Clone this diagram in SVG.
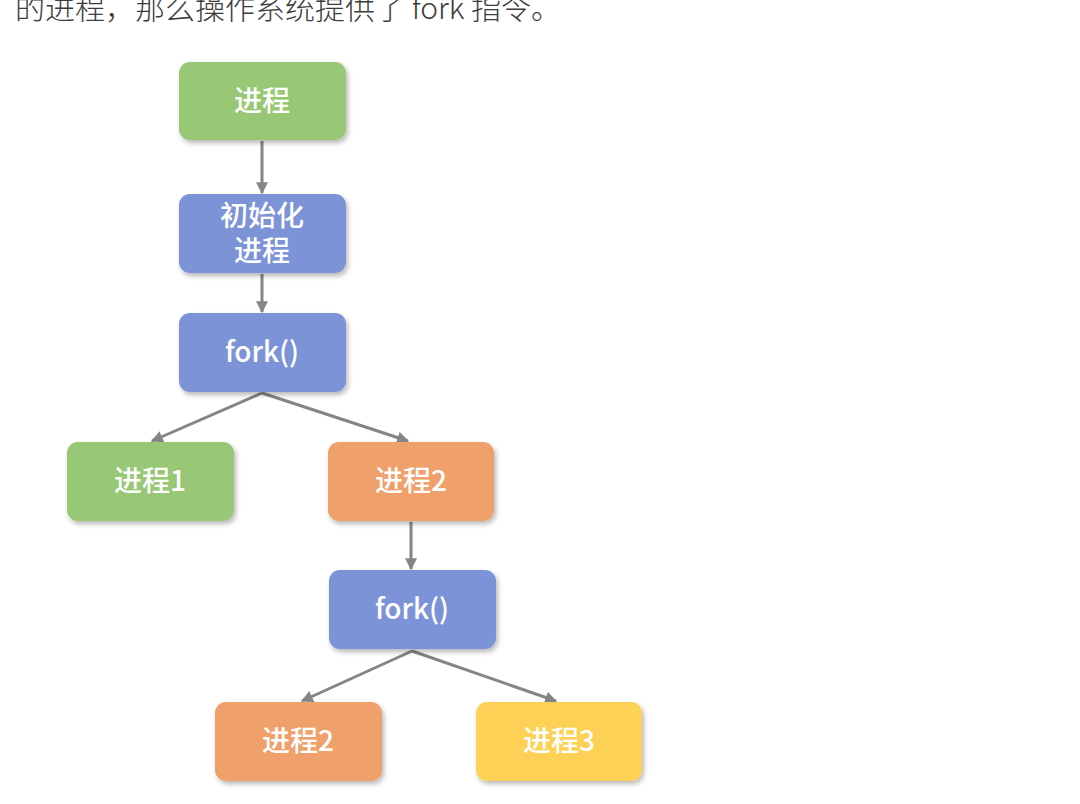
<svg xmlns="http://www.w3.org/2000/svg" width="1080" height="804" viewBox="0 0 1080 804">
<defs>
<filter id="sh" x="-10%" y="-10%" width="130%" height="140%">
<feDropShadow dx="2" dy="3" stdDeviation="2.5" flood-color="#000" flood-opacity="0.28"/>
</filter>
<marker id="arr" viewBox="0 0 10 10" refX="9" refY="5" markerWidth="4" markerHeight="4" orient="auto" markerUnits="strokeWidth">
<path d="M0,0 L10,5 L0,10 z" fill="#858585"/>
</marker>
</defs>
<style>
.box{filter:url(#sh);}
.g{fill:#98c875;}
.b{fill:#7b94d7;}
.o{fill:#f0a06a;}
.y{fill:#fdd154;}
.t{fill:#fff;font-family:"Noto Sans CJK SC","Noto Sans",sans-serif;font-size:28px;font-weight:500;text-anchor:middle;}
.c{stroke:#858585;stroke-width:3;fill:none;marker-end:url(#arr);}
.top{fill:#3c3c3c;font-family:"Noto Sans CJK SC","Noto Sans",sans-serif;font-size:30px;font-weight:300;}
</style>
<rect width="1080" height="804" fill="#fff"/>
<text class="top" x="15" y="19">的进程，那么操作系统提供了 fork 指令。</text>
<g id="connectors">
<line class="c" x1="262" y1="141" x2="262" y2="193"/>
<line class="c" x1="262" y1="274" x2="262" y2="312"/>
<line class="c" x1="262" y1="393" x2="152" y2="441"/>
<line class="c" x1="262" y1="393" x2="408" y2="441"/>
<line class="c" x1="411" y1="522" x2="411" y2="569"/>
<line class="c" x1="412" y1="651" x2="302" y2="701"/>
<line class="c" x1="412" y1="651" x2="556" y2="701"/>
</g>
<g id="n1"><rect class="box g" x="179" y="62" width="167" height="78" rx="11"/><text class="t" x="262" y="111">进程</text></g>
<g id="n2"><rect class="box b" x="179" y="194" width="167" height="79" rx="11"/><text class="t" x="262" y="226">初始化</text><text class="t" x="262" y="261">进程</text></g>
<g id="n3"><rect class="box b" x="179" y="313" width="167" height="79" rx="11"/><text class="t" x="262" y="362">fork()</text></g>
<g id="n4"><rect class="box g" x="67" y="442" width="167" height="79" rx="11"/><text class="t" x="150" y="491">进程1</text></g>
<g id="n5"><rect class="box o" x="328" y="442" width="166" height="79" rx="11"/><text class="t" x="411" y="491">进程2</text></g>
<g id="n6"><rect class="box b" x="329" y="570" width="167" height="79" rx="11"/><text class="t" x="412" y="619">fork()</text></g>
<g id="n7"><rect class="box o" x="215" y="702" width="167" height="79" rx="11"/><text class="t" x="298" y="751">进程2</text></g>
<g id="n8"><rect class="box y" x="476" y="702" width="166" height="79" rx="11"/><text class="t" x="559" y="751">进程3</text></g>
</svg>
